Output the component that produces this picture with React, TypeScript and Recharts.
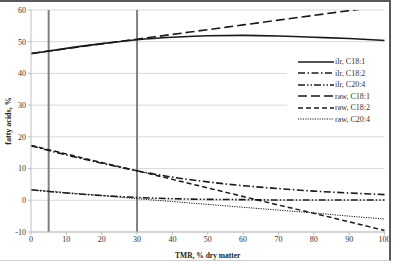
import React from 'react'
import {
  CartesianGrid,
  Label,
  Legend,
  Line,
  LineChart,
  ReferenceLine,
  XAxis,
  YAxis,
} from 'recharts'

// TMR share in the diet, % dry matter
const tmr = [0, 10, 20, 30, 40, 50, 60, 70, 80, 90, 100]

// ilr back-transformed fits
const ilrC181 = [46.2, 47.9, 49.4, 50.6, 51.4, 51.9, 52.0, 51.8, 51.4, 51.0, 50.4]
const ilrC182 = [17.2, 14.3, 11.7, 9.3, 7.3, 5.8, 4.6, 3.7, 2.9, 2.3, 1.8]
const ilrC204 = [3.3, 2.3, 1.5, 0.9, 0.5, 0.3, 0.2, 0.1, 0.1, 0.1, 0.1]

// raw (linear) fits
const rawC181 = [46.3, 47.8, 49.3, 50.8, 52.3, 53.8, 55.3, 56.8, 58.3, 59.8, 61.3]
const rawC182 = [17.3, 14.6, 11.9, 9.3, 6.6, 3.9, 1.2, -1.5, -4.1, -6.8, -9.5]
const rawC204 = [3.3, 2.4, 1.5, 0.5, -0.4, -1.3, -2.2, -3.1, -4.0, -5.0, -5.9]

const xTicks = [0, 10, 20, 30, 40, 50, 60, 70, 80, 90, 100]
const yTicks = [-10, 0, 10, 20, 30, 40, 50, 60]

// observed range of TMR inclusion
const rangeMarks = [5, 30]

const data = tmr.map((t, i) => ({
  tmr: t,
  ilrC181: ilrC181[i],
  ilrC182: ilrC182[i],
  ilrC204: ilrC204[i],
  rawC181: rawC181[i],
  rawC182: rawC182[i],
  rawC204: rawC204[i],
}))

const SERIES = [
  { key: 'ilrC181', name: 'ilr, C18:1', dash: undefined, width: 1.6 },
  { key: 'ilrC182', name: 'ilr, C18:2', dash: '7 2.5 1.5 2.5', width: 1.6 },
  { key: 'ilrC204', name: 'ilr, C20:4', dash: '7 2 1.5 2 1.5 2', width: 1.6 },
  { key: 'rawC181', name: 'raw, C18:1', dash: '9 4', width: 1.6 },
  { key: 'rawC182', name: 'raw, C18:2', dash: '5 3', width: 1.5 },
  { key: 'rawC204', name: 'raw, C20:4', dash: '1.2 1.2', width: 1 },
]

const FONT = '"Liberation Serif", "Times New Roman", serif'
const INK = '#1a1a1a'
const tickStyle = { fontSize: 8, fill: '#333', fontFamily: FONT }

function LegendBox() {
  return (
    <div
      style={{
        background: '#fff',
        padding: '1px 0 2px 11px',
        fontFamily: FONT,
        fontSize: 8,
        color: '#333',
      }}
    >
      {SERIES.map((s) => (
        <div key={s.key} style={{ display: 'flex', alignItems: 'center', height: 11.5 }}>
          <svg width={36} height={4} style={{ display: 'block' }}>
            <line
              x1={0}
              y1={2}
              x2={36}
              y2={2}
              stroke={INK}
              strokeWidth={s.width}
              strokeDasharray={s.dash}
            />
          </svg>
          <span style={{ marginLeft: 1, whiteSpace: 'nowrap' }}>{s.name}</span>
        </div>
      ))}
    </div>
  )
}

export default function App() {
  return (
    <div style={{ position: 'absolute', left: 0, top: 0, width: 396, height: 262, background: '#fff' }}>
      <LineChart
        width={396}
        height={262}
        data={data}
        margin={{ top: 10, right: 11.5, left: 0, bottom: 0 }}
        style={{ fontFamily: FONT }}
      >
        <CartesianGrid vertical={false} stroke="#d9d9d9" />
        <XAxis
          dataKey="tmr"
          type="number"
          domain={[0, 100]}
          ticks={xTicks}
          height={30}
          stroke="#bfbfbf"
          tickSize={3}
          tickMargin={1}
          tick={tickStyle}
        >
          <Label
            content={({ viewBox }: any) => (
              <text
                x={viewBox.x + viewBox.width / 2}
                y={viewBox.y + 23}
                textAnchor="middle"
                dominantBaseline="central"
                fontFamily={FONT}
                fontSize={7.5}
                fontWeight="bold"
                fill="#222"
              >
                TMR, % dry matter
              </text>
            )}
          />
        </XAxis>
        <YAxis
          type="number"
          domain={[-10, 60]}
          ticks={yTicks}
          allowDataOverflow
          width={31}
          stroke="#bfbfbf"
          tickSize={3}
          tickMargin={2}
          tick={tickStyle}
        >
          <Label
            content={({ viewBox }: any) => {
              const cx = viewBox.x + 8
              const cy = viewBox.y + viewBox.height / 2
              return (
                <text
                  x={cx}
                  y={cy}
                  transform={`rotate(-90 ${cx} ${cy})`}
                  textAnchor="middle"
                  dominantBaseline="central"
                  fontFamily={FONT}
                  fontSize={8}
                  fontWeight="bold"
                  fill="#222"
                >
                  fatty acids, %
                </text>
              )
            }}
          />
        </YAxis>
        {rangeMarks.map((x) => (
          <ReferenceLine key={x} x={x} stroke="#808080" strokeWidth={2} />
        ))}
        <Legend
          layout="vertical"
          align="center"
          verticalAlign="middle"
          content={() => <LegendBox />}
          wrapperStyle={{ left: 287, top: 55, width: 98 }}
        />
        {SERIES.map((s) => (
          <Line
            key={s.key}
            type="monotone"
            dataKey={s.key}
            name={s.name}
            stroke={INK}
            strokeWidth={s.width}
            strokeDasharray={s.dash}
            dot={false}
            activeDot={false}
            isAnimationActive={false}
          />
        ))}
      </LineChart>
      <div
        style={{
          position: 'absolute',
          left: 0,
          top: 0,
          width: 391,
          height: 261,
          boxSizing: 'border-box',
          borderTop: '2px solid #595959',
          borderRight: '2px solid #595959',
          borderBottom: '1px solid #d0d0d0',
          pointerEvents: 'none',
        }}
      />
    </div>
  )
}
